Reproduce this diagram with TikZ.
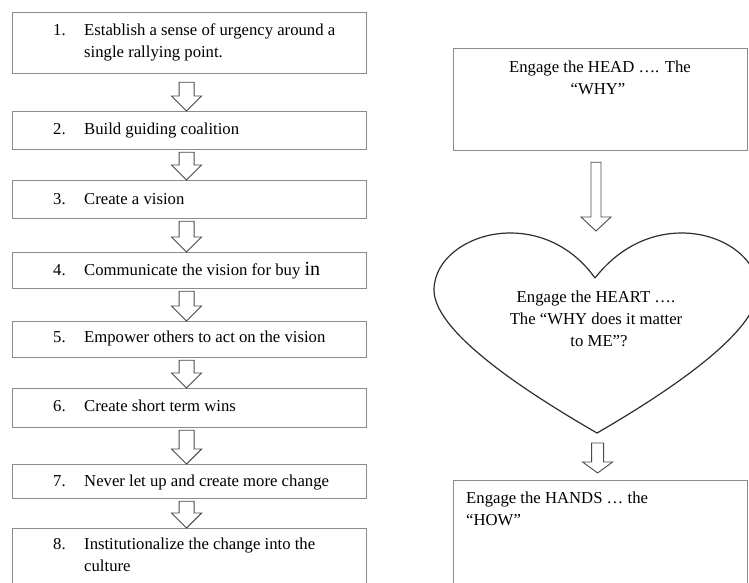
\documentclass[tikz,border=0pt]{standalone}
\usepackage{fontspec}
\setmainfont{Liberation Serif}
\usetikzlibrary{calc}

\definecolor{boxgray}{HTML}{8C8C8C}
\definecolor{arrowgray}{HTML}{4A4A4A}
\definecolor{heartgray}{HTML}{2E2E2E}

\tikzset{
  stepbox/.style={draw=boxgray, line width=1.2pt, inner sep=0pt, anchor=north west},
  txt/.style={anchor=base west, inner sep=0pt, font=\fontsize{16.7}{22}\selectfont},
  ctxt/.style={anchor=base, inner sep=0pt, font=\fontsize{16.7}{22}\selectfont},
  blockarrow/.style={draw=arrowgray, line width=0.9pt, fill=white, line join=miter},
  heartline/.style={draw=heartgray, line width=1.2pt},
}

% hollow block arrow: #1 source point, #2 target point, #3 x offset,
% #4 shaft half width, #5 gap below source, #6 gap above target, #7 head length
\newcommand\hollowarrow[7]{%
  \draw[blockarrow] let \p1=(#1), \p2=(#2) in
    (\x2+#3-#4, \y1-#5) -- (\x2+#3+#4, \y1-#5) -- (\x2+#3+#4, \y2+#6+#7)
    -- (\x2+#3+15pt, \y2+#6+#7) -- (\x2+#3, \y2+#6) -- (\x2+#3-15pt, \y2+#6+#7)
    -- (\x2+#3-#4, \y2+#6+#7) -- cycle;}

\newcommand\numitem[2]{\makebox[31pt][l]{#1}#2}

\begin{document}
\begin{tikzpicture}[x=1pt, y=-1pt]
  \fill[white] (0,0) rectangle (749,582);
  \clip (0,0) rectangle (749,582);

  % ---- left column: eight steps ----
  \node[stepbox, minimum width=354pt, minimum height=61pt] (b1) at (12,12) {};
  \node[stepbox, minimum width=354pt, minimum height=38pt] (b2) at (12,111) {};
  \node[stepbox, minimum width=354pt, minimum height=38pt] (b3) at (12,180) {};
  \node[stepbox, minimum width=354pt, minimum height=36pt] (b4) at (12,252) {};
  \node[stepbox, minimum width=354pt, minimum height=36pt] (b5) at (12,321) {};
  \node[stepbox, minimum width=354pt, minimum height=39pt] (b6) at (12,388) {};
  \node[stepbox, minimum width=354pt, minimum height=34pt] (b7) at (12,464) {};
  \node[stepbox, minimum width=354pt, minimum height=80pt] (b8) at (12,528) {};

  \node[txt] (t1a) at (53,35) {\numitem{1.}{Establish a sense of urgency around a}};
  \node[txt] (t1b) at (84,57) {single rallying point.};
  \node[txt] (t2) at (53,134) {\numitem{2.}{Build guiding coalition}};
  \node[txt] (t3) at (53,204) {\numitem{3.}{Create a vision}};
  \node[txt] (t4) at (53,275) {\numitem{4.}{Communicate the vision for buy {\fontsize{20}{22}\selectfont in}}};
  \node[txt] (t5) at (53,342) {\numitem{5.}{Empower others to act on the vision}};
  \node[txt] (t6) at (53,411) {\numitem{6.}{Create short term wins}};
  \node[txt] (t7) at (53,486) {\numitem{7.}{Never let up and create more change}};
  \node[txt] (t8a) at (53,549) {\numitem{8.}{Institutionalize the change into the}};
  \node[txt] (t8b) at (84,571) {culture};

  \hollowarrow{b1.south}{b2.north}{-3pt}{7.5pt}{8pt}{0pt}{15pt}
  \hollowarrow{b2.south}{b3.north}{-3pt}{7.5pt}{2pt}{0pt}{15pt}
  \hollowarrow{b3.south}{b4.north}{-3pt}{7.5pt}{2pt}{0pt}{15pt}
  \hollowarrow{b4.south}{b5.north}{-3pt}{7.5pt}{2pt}{0pt}{15pt}
  \hollowarrow{b5.south}{b6.north}{-3pt}{7.5pt}{2pt}{0pt}{15pt}
  \hollowarrow{b6.south}{b7.north}{-3pt}{7.5pt}{2pt}{0pt}{15pt}
  \hollowarrow{b7.south}{b8.north}{-3pt}{7.5pt}{2pt}{0pt}{15pt}

  % ---- right column: head, heart, hands ----
  \node[stepbox, minimum width=294pt, minimum height=102pt] (head) at (453,48) {};
  \node[ctxt] (headA) at (600,72) {Engage the HEAD …. The};
  \node[ctxt] (headB) at (598,94) {“WHY”};

  \draw[heartline] (595,278)
    .. controls (575,250) and (545,233) .. (510,233)
    .. controls (470,233) and (434,258) .. (434,290)
    .. controls (434,335) and (540,400) .. (597,433)
    .. controls (654,400) and (758,335) .. (758,290)
    .. controls (758,258) and (722,233) .. (682,233)
    .. controls (647,233) and (617,250) .. (595,278);
  \coordinate (heartIn) at (596,231);
  \coordinate (heartTip) at (597,433);
  \node[ctxt] (heartA) at (596,302) {Engage the HEART ….};
  \node[ctxt] (heartB) at (596,324) {The “WHY does it matter};
  \node[ctxt] (heartC) at (599,346) {to ME”?};

  \node[stepbox, minimum width=294pt, minimum height=130pt] (hands) at (453,480) {};
  \node[txt] (handsA) at (466,503) {Engage the HANDS … the};
  \node[txt] (handsB) at (466,525) {“HOW”};

  \hollowarrow{head.south}{heartIn}{0pt}{5pt}{11pt}{0pt}{14pt}
  \hollowarrow{heartTip}{hands.north}{-3pt}{6pt}{10pt}{7pt}{11pt}
\end{tikzpicture}
\end{document}
